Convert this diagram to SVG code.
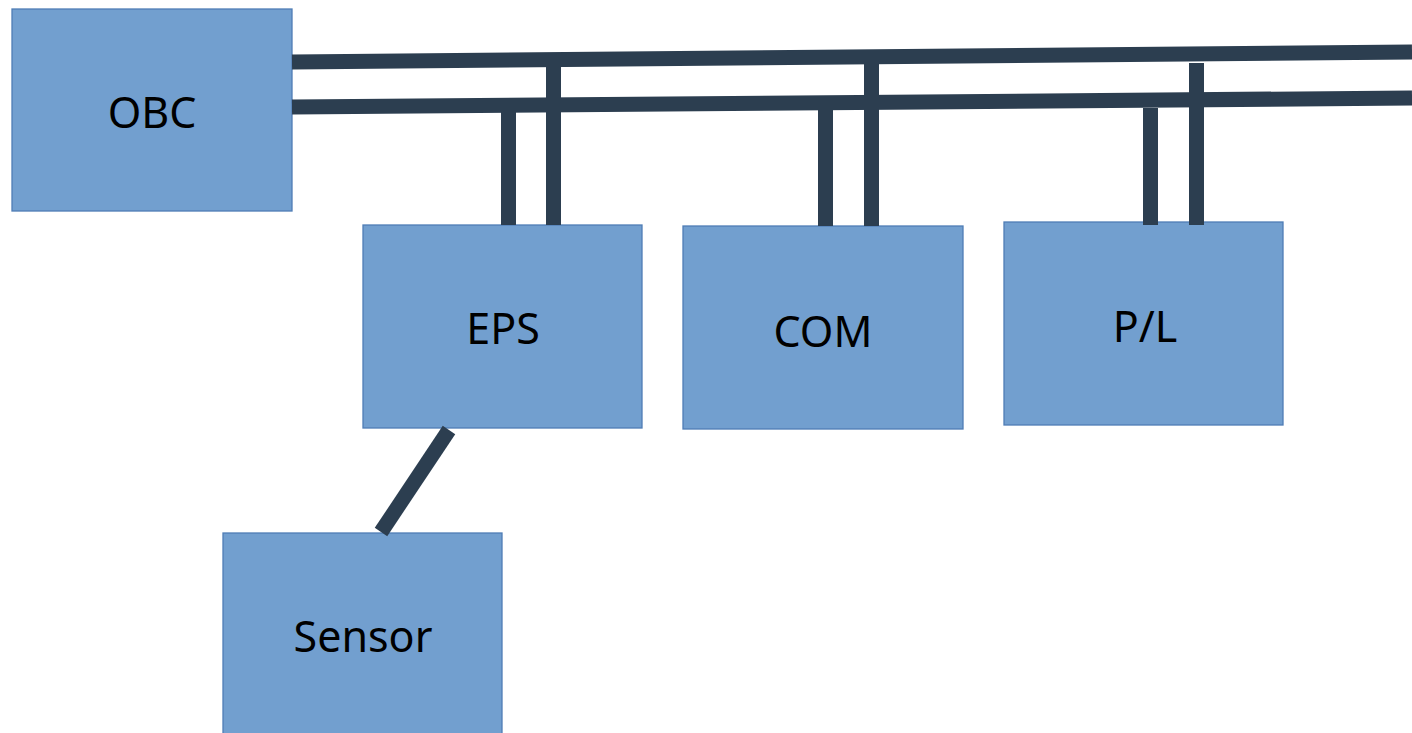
<svg xmlns="http://www.w3.org/2000/svg" width="1412" height="733" viewBox="0 0 1412 733">
<style>
.box{fill:#729FCF;stroke:#4F7DB6;stroke-width:1.3}
.lbl{font-family:"Noto Sans","Open Sans",sans-serif;font-size:43px;fill:#000;text-anchor:middle}
.bus{stroke:#2C3E50;stroke-width:15;fill:none;stroke-linecap:butt}
</style>
<rect width="1412" height="733" fill="#fff"/>
<g id="OBC"><rect class="box" x="12" y="9" width="280" height="202"/><text class="lbl" x="152" y="128">OBC</text></g>
<g id="EPS"><rect class="box" x="363" y="225" width="279" height="203"/><text class="lbl" x="503" y="344">EPS</text></g>
<g id="COM"><rect class="box" x="683" y="226" width="280" height="203"/><text class="lbl" x="823" y="347">COM</text></g>
<g id="PL"><rect class="box" x="1004" y="222" width="279" height="203"/><text class="lbl" x="1145" y="342">P/L</text></g>
<g id="Sensor"><rect class="box" x="223" y="533" width="279" height="210"/><text class="lbl" x="363" y="652">Sensor</text></g>
<g id="connectors">
<line class="bus" x1="292" y1="62" x2="1412" y2="52"/>
<line class="bus" x1="292" y1="107" x2="1412" y2="98"/>
<line class="bus" x1="508.5" y1="112" x2="508.5" y2="225"/>
<line class="bus" x1="553.5" y1="67" x2="553.5" y2="225"/>
<line class="bus" x1="825.5" y1="108" x2="825.5" y2="226"/>
<line class="bus" x1="871.5" y1="63" x2="871.5" y2="226"/>
<line class="bus" x1="1150.5" y1="108" x2="1150.5" y2="225"/>
<line class="bus" x1="1196.5" y1="63" x2="1196.5" y2="225"/>
<line class="bus" x1="449" y1="430" x2="381" y2="532"/>
</g>
</svg>
